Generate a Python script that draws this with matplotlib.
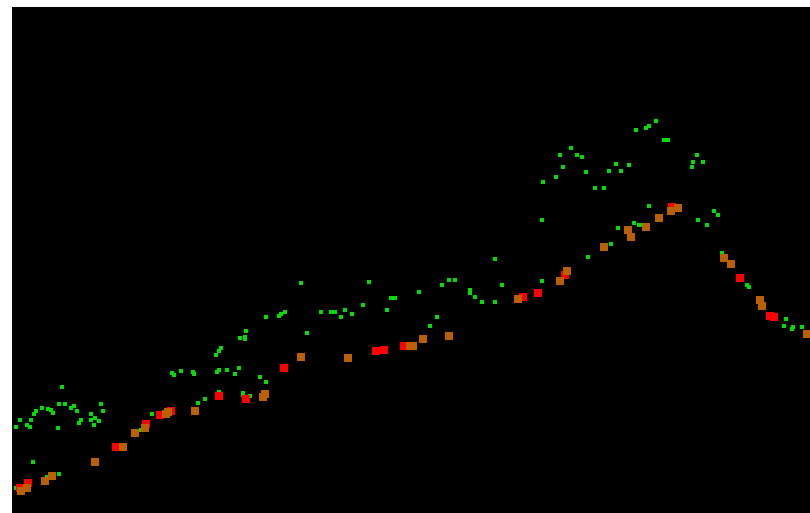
import matplotlib
matplotlib.use("Agg")
import matplotlib.pyplot as plt
import numpy as np

# values (x = position, y = height above bottom)
green_x = [61.7, 16, 20, 27.3, 30, 31.3, 34, 35.7, 42.3, 48.3, 50.7, 53.3, 57.7, 59, 64.7,
           71, 74, 77, 81.3, 78.7, 91, 90.7, 95, 93.7, 98.7, 100.7, 103.3, 152, 171.7, 174,
           181, 193, 198, 32.7, 59.3, 46.7, 16, 140.7,
           300.7, 368.7, 390.7, 395, 362.7, 386.7, 321.3, 331, 335.3, 344.7, 352, 340.7,
           285.3, 280.7, 279.3, 266, 307.3, 246.3, 245, 245, 239.7, 221, 219, 216,
           192.7, 193.7, 218.7, 217.3, 227, 235.3, 239.3, 260.3, 266, 243.3, 243.3,
           250.3, 218.7, 204.7, 197.7,
           495, 588, 502, 470, 470, 449.3, 454.7, 442, 418.7, 475.3, 482.3, 495, 542,
           436.7, 429.7,
           655.7, 636.3, 646, 648.7, 664, 668.3, 571, 560, 576.7, 582.3, 562.7, 556, 543.3,
           586.3, 615.7, 608.7, 621, 629.3, 594.7, 604.3, 697.3, 693.3, 703, 692, 542,
           649, 618.3, 633.7, 639.3, 714, 718.3, 698.3, 707.3, 611.3,
           640, 722.3, 747.3, 749, 786, 783.7, 791.7, 793.3, 801.7]
green_y = [387.3, 426.7, 419.7, 424.7, 426.7, 419.7, 414.3, 411.3, 407.7, 409.3, 410, 412.7,
           428.3, 404.3, 404.3, 407.7, 406, 411, 419.7, 423, 414.3, 419.7, 417.7, 424.7,
           421.3, 404.3, 411, 414.3, 373.3, 375.3, 370.7, 371.7, 402.7, 462.3, 474, 477.3,
           487.7, 430,
           283.3, 282.3, 298.3, 298.3, 305.3, 310.3, 312, 312, 312, 310.3, 313.7, 317.3,
           312, 314.3, 315.7, 317.3, 332.7, 331, 336.7, 339, 337.7, 348, 351, 355,
           371.7, 373.7, 370, 371.7, 370, 373.7, 368.3, 377, 382, 393.3, 395,
           395.7, 391.7, 399, 402.7,
           259, 257.3, 284.7, 290, 293.3, 279.7, 279.7, 284.7, 291.7, 296.7, 302, 302, 281.3,
           317.3, 325.7,
           121, 129.7, 128, 126, 139.7, 139.7, 148.3, 155, 155, 157, 167, 177.3, 182.3,
           172, 163.7, 170.7, 170.7, 165.3, 187.7, 187.7, 155, 162, 162, 167, 220,
           206.3, 228.3, 223.3, 225, 211.3, 214.7, 220, 225, 243.7,
           225, 253.3, 284.7, 286.7, 318.7, 326, 329, 327.3, 327.3]

red_x = [20, 28.3, 116, 146, 160, 170.7, 218.7, 246.3, 283.7, 375.7, 383.7, 404,
         522.7, 538, 565.3, 672.3, 740.3, 769.7, 773.7]
red_y = [487.7, 482.7, 447, 424.3, 414.7, 410.7, 395.7, 399, 368.3, 351.3, 349.7, 346.3,
         296.7, 293.3, 274.7, 207, 278, 315.7, 317.3]

orange_x = [21.3, 26.7, 45, 52, 95, 122.7, 135.3, 144.7, 166, 168.3, 195, 263.3, 265.3,
            300.7, 347.7, 410, 413.3, 422.7, 449, 518.3, 560, 567, 604, 628, 630.7, 646,
            658.7, 671, 677.7, 723.7, 730.7, 759.7, 761.7, 807]
orange_y = [490.7, 487.7, 480.7, 476, 462.3, 447, 433, 428, 414, 411.7, 411, 396.7, 394.3,
            356.7, 358, 346.3, 346.3, 339.3, 336, 298.7, 281.3, 271, 247, 230, 237.3, 226.7,
            218.3, 211.3, 208, 257.7, 264.3, 300, 305.7, 334]

H = 513

fig = plt.figure(figsize=(8.1, 5.13), dpi=100)
ax = fig.add_axes([12 / 810, 0, 1 - 12 / 810, (H - 7) / H])
ax.set_facecolor("black")

ax.scatter(green_x, H - np.array(green_y), marker="s", s=7, c="#00dd00", linewidths=0)
ax.scatter(red_x, H - np.array(red_y), marker="s", s=30, c="#ff0000", linewidths=0)
ax.scatter(orange_x, H - np.array(orange_y), marker="s", s=30, c="#bb6000", linewidths=0)

ax.set_xlim(12, 810)
ax.set_ylim(0, H - 7)
ax.set_xticks([])
ax.set_yticks([])
for s in ax.spines.values():
    s.set_visible(False)

fig.savefig("out.png", dpi=100, facecolor="white")
